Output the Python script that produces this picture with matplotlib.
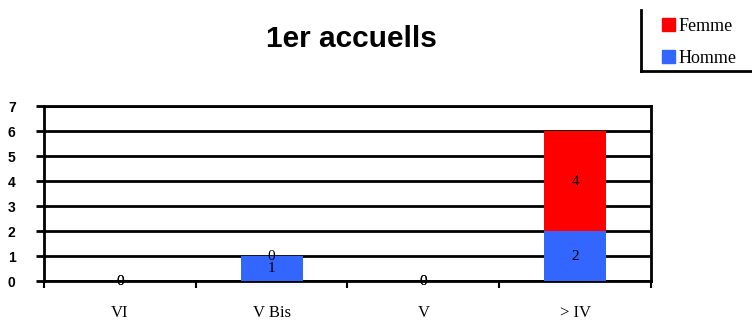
import matplotlib
matplotlib.use('Agg')
import matplotlib.pyplot as plt
import numpy as np

categories = ['VI', 'V Bis', 'V', '> IV']
homme = [0, 1, 0, 2]
femme = [0, 0, 0, 4]

col_homme = '#3366ff'
col_femme = '#ff0000'

fig = plt.figure(figsize=(7.52, 3.22), dpi=100)
ax = fig.add_axes([0.0585, 0.1273, 0.8072, 0.5435])

x = np.arange(len(categories))
w = 0.41
ax.bar(x, homme, w, color=col_homme, zorder=3)
ax.bar(x, femme, w, bottom=homme, color=col_femme, zorder=3)

# data labels
for i in range(len(categories)):
    ax.text(x[i], homme[i] / 2, str(homme[i]), ha='center', va='center',
            family='Liberation Serif', fontsize=11, zorder=4)
    ax.text(x[i], homme[i] + femme[i] / 2, str(femme[i]), ha='center', va='center',
            family='Liberation Serif', fontsize=11, zorder=4)

ax.set_xlim(-0.5, 3.5)
ax.set_ylim(0, 7)
ax.set_yticks(range(0, 8))
ax.yaxis.grid(True, color='black', linewidth=2)
ax.set_axisbelow(True)

for s in ['left', 'right', 'bottom', 'top']:
    ax.spines[s].set_linewidth(2)

ax.set_xticks(x)
ax.set_xticklabels(categories, family='Liberation Serif', fontsize=12)
ax.tick_params(axis='x', length=0, pad=17)
ax.set_xticks(np.arange(-0.5, 4, 1), minor=True)
ax.tick_params(axis='x', which='minor', length=5, width=1.5)
ax.tick_params(axis='y', length=6, width=2, labelsize=10, pad=20)
for lab in ax.get_yticklabels():
    lab.set_fontweight('bold')
    lab.set_family('Liberation Sans')
    lab.set_horizontalalignment('left')

fig.text(0.4674, 0.88, '1er accuells', ha='center', va='center',
         family='Liberation Sans', fontweight='bold', fontsize=21.5)

# legend box
leg = fig.legend(handles=[plt.Rectangle((0, 0), 1, 1, color=col_femme),
                          plt.Rectangle((0, 0), 1, 1, color=col_homme)],
                 labels=['Femme', 'Homme'], loc='upper left',
                 bbox_to_anchor=(0.861, 0.99), frameon=False,
                 prop={'family': 'Liberation Serif', 'size': 13},
                 handlelength=0.7, handleheight=0.7, handletextpad=0.2,
                 labelspacing=0.85, borderpad=0.3)
fig.add_artist(plt.Line2D([0.853, 0.853], [0.78, 0.97], color='black', lw=2))
fig.add_artist(plt.Line2D([0.853, 1.0], [0.78, 0.78], color='black', lw=2))

fig.savefig('out.png', dpi=100)
